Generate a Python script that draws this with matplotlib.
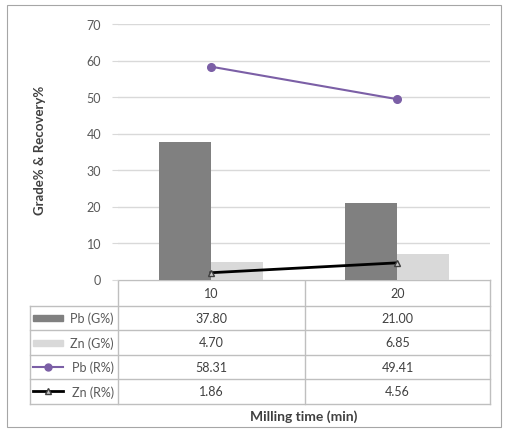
import numpy as np
import matplotlib
matplotlib.use("Agg")
import matplotlib.pyplot as plt
from matplotlib.patches import Rectangle

# ---- data ----
categories = ["10", "20"]
pb_grade = [37.80, 21.00]
zn_grade = [4.70, 6.85]
pb_rec = [58.31, 49.41]
zn_rec = [1.86, 4.56]
row_labels = ["Pb (G%)", "Zn (G%)", "Pb (R%)", "Zn (R%)"]
yticks = [0, 10, 20, 30, 40, 50, 60, 70]

plt.rcParams["font.family"] = ["Lato", "DejaVu Sans"]

W, H = 505, 431
fig = plt.figure(figsize=(W / 100, H / 100), dpi=100)

def fx(x):
    return x / W

def fy(y):
    return 1 - y / H

# plot area (pixel bounds)
L, R, T, B = 118, 490, 25, 280.5
ax = fig.add_axes([fx(L), fy(B), fx(R - L), (B - T) / H])

x = np.arange(len(categories))
bw = 0.28
dark = "#808080"
light = "#d9d9d9"
purple = "#7b5fa6"

ax.bar(x - bw / 2, pb_grade, bw, color=dark, zorder=2)
ax.bar(x + bw / 2, zn_grade, bw, color=light, zorder=2)
ax.plot(x, pb_rec, "-o", color=purple, lw=1.5, ms=5.5, zorder=3)
ax.plot(x, zn_rec, "-^", color="black", lw=2, ms=5, mfc="#c8c8c8",
        mec="#404040", mew=1, zorder=3)

ax.set_xlim(-0.5, 1.5)
ax.set_ylim(0, 70)
ax.set_yticks(yticks)
ax.set_xticks([])
ax.yaxis.grid(True, color="#d9d9d9", lw=1)
ax.set_axisbelow(True)
for s in ax.spines.values():
    s.set_visible(False)
ax.tick_params(axis="y", length=4, color="#d9d9d9", pad=8, labelsize=9,
               labelcolor="#595959")

# ---- data table + frame drawn in pixel coords ----
ov = fig.add_axes([0, 0, 1, 1], zorder=-1)
ov.set_xlim(0, W)
ov.set_ylim(H, 0)
ov.axis("off")

ov.add_patch(Rectangle((7, 6), 494, 422, fill=False, ec="#a6a6a6", lw=0.8))

lc = "#bfbfbf"
rows_y = [307, 331, 356, 380, 405]
col_x = [L, 305, R]
ov.plot([L, R], [B, B], color=lc, lw=1)
for yy in rows_y:
    ov.plot([30, R], [yy, yy], color=lc, lw=1)
ov.plot([30, 30], [rows_y[0], rows_y[-1]], color=lc, lw=1)
for xx in col_x:
    ov.plot([xx, xx], [B, rows_y[-1]], color=lc, lw=1)

centers = [(col_x[i] + col_x[i + 1]) / 2 for i in range(len(categories))]
tc = "#404040"
for cx, cat in zip(centers, categories):
    ov.text(cx, (B + rows_y[0]) / 2, cat, ha="center", va="center",
            fontsize=9, color=tc)

series = [pb_grade, zn_grade, pb_rec, zn_rec]
for i, (lab, vals) in enumerate(zip(row_labels, series)):
    cy = (rows_y[i] + rows_y[i + 1]) / 2
    ov.text(114, cy, lab, ha="right", va="center", fontsize=9, color="#595959")
    for cx, v in zip(centers, vals):
        ov.text(cx, cy, f"{v:.2f}", ha="center", va="center", fontsize=9, color=tc)

# legend keys inside the table
cy = [(rows_y[i] + rows_y[i + 1]) / 2 for i in range(4)]
ov.add_patch(Rectangle((33, cy[0] - 3), 30, 6, color=dark))
ov.add_patch(Rectangle((33, cy[1] - 3), 30, 6, color=light))
ov.plot([33, 63], [cy[2], cy[2]], "-", color=purple, lw=1.5)
ov.plot([48], [cy[2]], "o", color=purple, ms=5)
ov.plot([33, 63], [cy[3], cy[3]], "-", color="black", lw=2)
ov.plot([48], [cy[3]], "^", ms=4.5, mfc="#c8c8c8", mec="#404040", mew=1)

fig.text(fx(304), fy(417), "Milling time (min)", ha="center", va="center",
         fontsize=10, fontweight="bold", color="#404040")
fig.text(fx(40), fy(150), "Grade% & Recovery%", ha="center", va="center",
         rotation=90, fontsize=9.5, fontweight="bold", color="#404040")

fig.savefig("out.png", dpi=100)
